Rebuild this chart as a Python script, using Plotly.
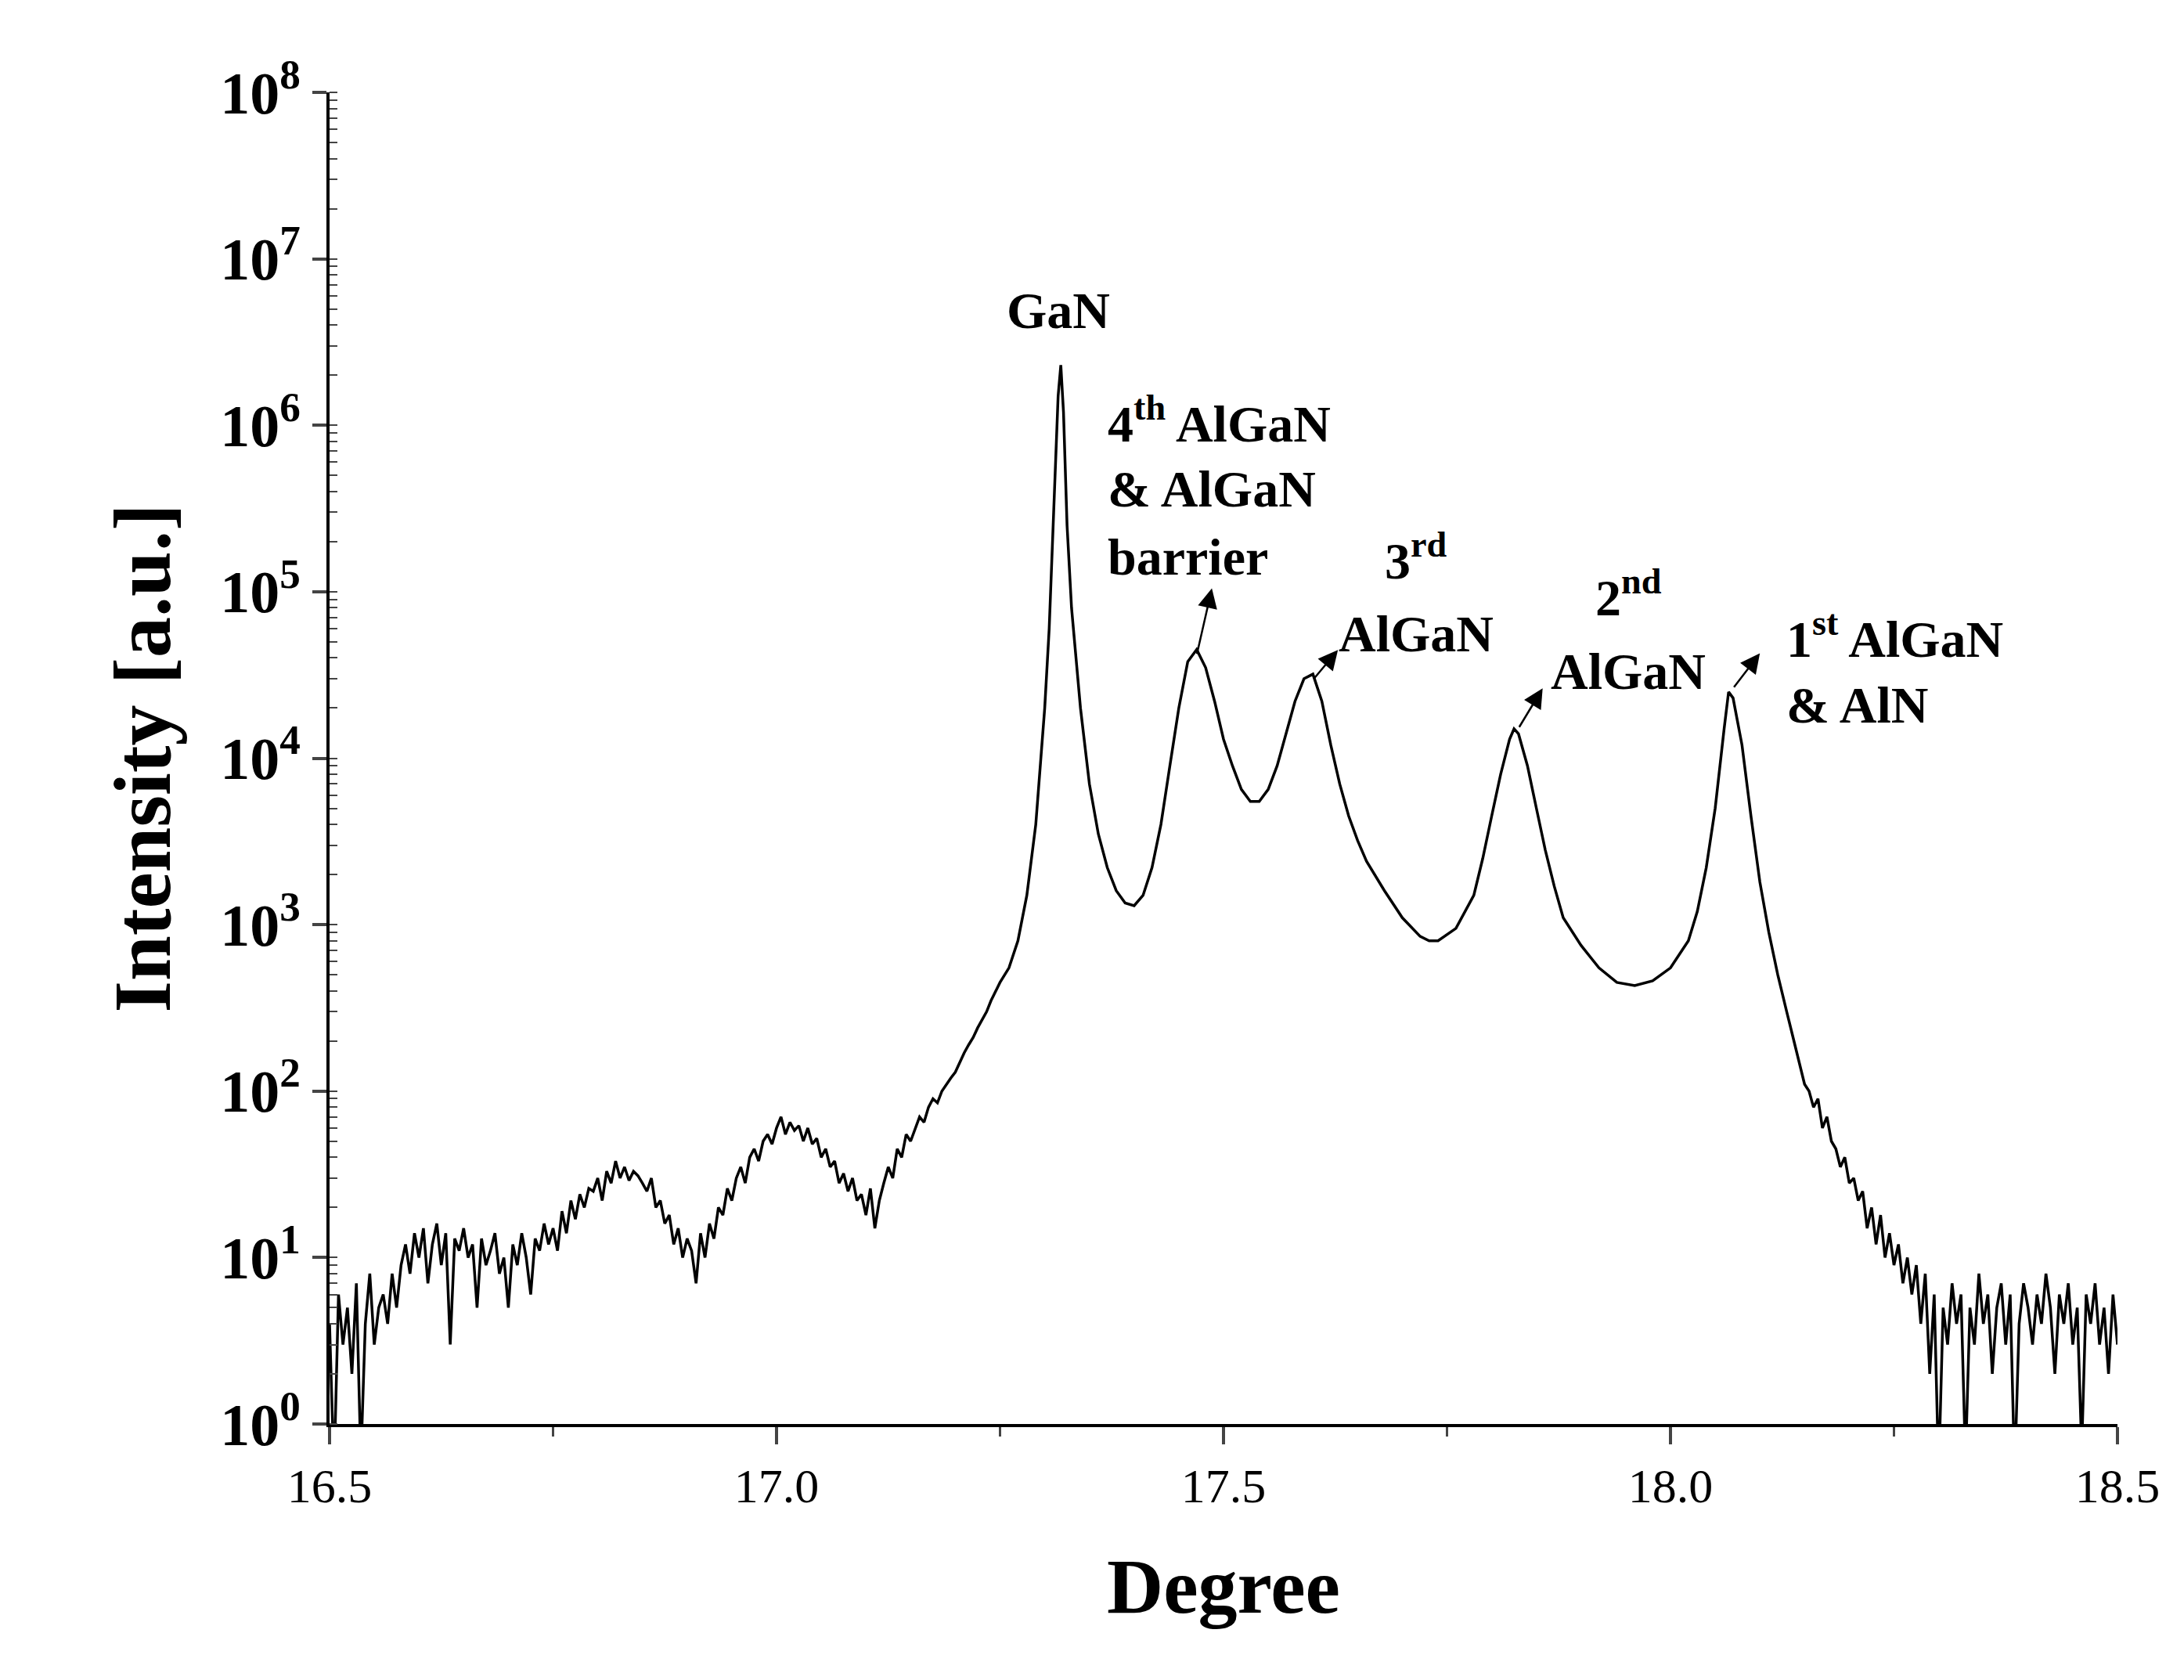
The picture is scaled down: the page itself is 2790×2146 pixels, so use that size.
import numpy as np
import plotly.graph_objects as go

# Left noisy region, 16.500 .. 17.245 step 0.005
x_left = np.round(np.arange(150) * 0.005 + 16.5, 3)
y_left = [4, 0.5, 6, 3, 5, 2, 7, 0.6, 4, 8,
          3, 5, 6, 4, 8, 5, 9, 12, 8, 14,
          10, 15, 7, 12, 16, 9, 14, 3, 13, 11,
          15, 10, 12, 5, 13, 9, 11, 14, 8, 10,
          5, 12, 9, 14, 10, 6, 13, 11, 16, 12,
          15, 11, 19, 14, 22, 17, 24, 20, 26, 25,
          30, 22, 33, 28, 38, 30, 35, 29, 33, 31,
          28, 25, 30, 20, 22, 16, 18, 12, 15, 10,
          13, 11, 7, 14, 10, 16, 13, 20, 18, 26,
          22, 30, 35, 28, 40, 45, 38, 50, 55, 48,
          60, 70, 55, 65, 58, 62, 50, 60, 48, 52,
          40, 45, 35, 38, 28, 32, 25, 30, 22, 24,
          18, 26, 15, 22, 28, 35, 30, 45, 40, 55,
          50, 60, 70, 65, 80, 90, 85, 100, 110, 120,
          130, 150, 170, 190, 210, 240, 270, 300, 350, 400]

x_mid = [17.25, 17.26, 17.27, 17.28, 17.29, 17.30, 17.305, 17.31, 17.315, 17.318, 17.321, 17.325,
         17.33, 17.34, 17.35, 17.36, 17.37, 17.38, 17.39, 17.40, 17.41, 17.42, 17.43, 17.44, 17.45,
         17.46, 17.47, 17.48, 17.49, 17.50, 17.51, 17.52, 17.53, 17.54, 17.55, 17.56, 17.57, 17.58,
         17.59, 17.60, 17.61, 17.62, 17.63, 17.64, 17.65, 17.66, 17.68, 17.70, 17.72, 17.73, 17.74,
         17.76, 17.78, 17.79, 17.80, 17.81, 17.82, 17.825, 17.83, 17.84, 17.85, 17.86, 17.87, 17.88,
         17.90, 17.92, 17.94, 17.96, 17.98, 18.00, 18.02, 18.03, 18.04, 18.05, 18.06, 18.065, 18.07,
         18.08, 18.09, 18.10, 18.11, 18.12, 18.13, 18.14, 18.15]
y_mid = [450, 550, 800, 1500, 4000, 2e4, 6e4, 3e5, 1.5e6, 2.3e6, 1.2e6, 2.5e5,
         8e4, 2e4, 7000, 3500, 2200, 1600, 1350, 1300, 1500, 2200, 4000, 9000, 2e4,
         3.8e4, 4.5e4, 3.5e4, 2.2e4, 1.3e4, 9000, 6500, 5500, 5500, 6500, 9000, 1.4e4, 2.2e4,
         3e4, 3.2e4, 2.2e4, 1.2e4, 7000, 4500, 3200, 2400, 1600, 1100, 850, 800, 800,
         950, 1500, 2500, 4500, 8000, 1.3e4, 1.5e4, 1.4e4, 9000, 5000, 2800, 1700, 1100,
         750, 550, 450, 430, 460, 550, 800, 1200, 2200, 5000, 1.5e4, 2.5e4, 2.3e4,
         1.2e4, 4500, 1800, 900, 500, 300, 180, 110]

# Right noisy region, 18.155 .. 18.500 step 0.005
x_right = np.round(np.arange(70) * 0.005 + 18.155, 3)
y_right = [100, 80, 90, 60, 70, 50, 45, 35, 40, 28,
           30, 22, 25, 15, 20, 12, 18, 10, 14, 9,
           12, 7, 10, 6, 9, 4, 8, 2, 6, 0.5,
           5, 3, 7, 4, 6, 0.6, 5, 3, 8, 4,
           6, 2, 5, 7, 3, 6, 0.5, 4, 7, 5,
           3, 6, 4, 8, 5, 2, 6, 4, 7, 3,
           5, 0.7, 6, 4, 7, 3, 5, 2, 6, 3]

x_all = list(x_left) + x_mid + list(x_right)
y_all = y_left + y_mid + y_right

FONT = "Liberation Serif"

fig = go.Figure(go.Scatter(x=x_all, y=y_all, mode="lines",
                           line=dict(color="black", width=3.5), showlegend=False))

decades = list(range(0, 9))
fig.update_layout(
    width=2790, height=2146, plot_bgcolor="white", paper_bgcolor="white",
    margin=dict(l=413, r=93, t=110, b=335),
    font=dict(family=FONT, color="black"),
    xaxis=dict(range=[16.5, 18.5], tickvals=[16.5, 17.0, 17.5, 18.0, 18.5],
               ticktext=["16.5", "17.0", "17.5", "18.0", "18.5"],
               ticks="outside", ticklen=22, tickwidth=4, showline=True, linewidth=4,
               linecolor="black", showgrid=False, zeroline=False,
               tickfont=dict(size=62, family=FONT),
               minor=dict(tickvals=[16.75, 17.25, 17.75, 18.25], ticks="outside", ticklen=12, tickwidth=3),
               title=dict(text="<b>Degree</b>", font=dict(size=100, family=FONT), standoff=60)),
    yaxis=dict(type="log", range=[0, 8], tickvals=[10 ** d for d in decades],
               ticktext=[f"<b>10<sup>{d}</sup></b>" for d in decades],
               ticks="outside", ticklen=18, tickwidth=4, showline=True, linewidth=4,
               linecolor="black", showgrid=False, zeroline=False,
               tickfont=dict(size=76, family=FONT),
               minor=dict(ticks="inside", ticklen=10, tickwidth=2, dtick="D1"),
               title=dict(text="<b>Intensity [a.u.]</b>", font=dict(size=104, family=FONT), standoff=30)),
)

AF = dict(size=66, family=FONT, color="black")
texts = [
    (17.315, 6.69, "<b>GaN</b>", "center"),
    (17.369, 6.03, "<b>4<sup>th</sup> AlGaN</b>", "left"),
    (17.369, 5.62, "<b>&amp; AlGaN</b>", "left"),
    (17.369, 5.21, "<b>barrier</b>", "left"),
    (17.715, 5.21, "<b>3<sup>rd</sup></b>", "center"),
    (17.715, 4.75, "<b>AlGaN</b>", "center"),
    (17.953, 4.99, "<b>2<sup>nd</sup></b>", "center"),
    (17.953, 4.52, "<b>AlGaN</b>", "center"),
    (18.128, 4.74, "<b>1<sup>st</sup> AlGaN</b>", "left"),
    (18.128, 4.32, "<b>&amp; AlN</b>", "left"),
]
for x, y, t, anc in texts:
    fig.add_annotation(x=x, y=y, text=t, showarrow=False, xanchor=anc, yanchor="middle", font=AF)

arrows = [(17.47, 4.62, 17.487, 5.02), (17.60, 4.47, 17.628, 4.65),
          (17.83, 4.18, 17.857, 4.42), (18.07, 4.42, 18.10, 4.63)]
for x0, y0, x1, y1 in arrows:
    fig.add_annotation(x=x1, y=y1, ax=x0, ay=y0, axref="x", ayref="y", xref="x", yref="y",
                       text="", showarrow=True, arrowhead=2, arrowsize=2, arrowwidth=2.5,
                       arrowcolor="black")

fig.write_html("out.html")
